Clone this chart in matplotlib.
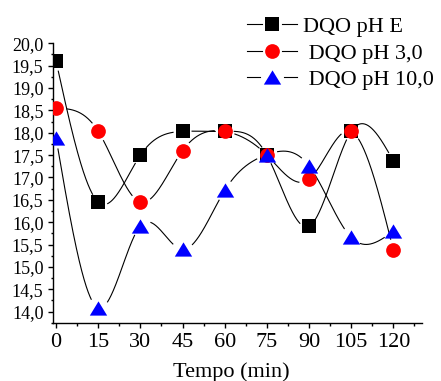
import numpy as np
import matplotlib
matplotlib.use("Agg")
import matplotlib.pyplot as plt
from matplotlib.path import Path
from matplotlib.lines import Line2D
from matplotlib.legend_handler import HandlerBase
from matplotlib.ticker import MultipleLocator, FuncFormatter

plt.rcParams['font.family'] = ['Liberation Serif', 'DejaVu Serif']

# Sampling times (min)
tempo = [0, 15, 30, 45, 60, 75, 90, 105, 120]

# DQO readings for each pH condition
dqo_ph_e = [19.60, 16.45, 17.50, 18.03, 18.03, 17.50, 15.91, 18.03, 17.37]
dqo_ph_3 = [18.55, 18.03, 16.45, 17.60, 18.03, 17.50, 16.96, 18.03, 15.38]
dqo_ph_10 = [17.88, 14.08, 15.92, 15.39, 16.71, 17.51, 17.26, 15.66, 15.80]

labels = ["DQO pH E", " DQO pH 3,0", " DQO pH 10,0"]
xticks = [0, 15, 30, 45, 60, 75, 90, 105, 120]


def natural_spline(x, y, xs):
    x = np.asarray(x, float)
    y = np.asarray(y, float)
    n = len(x)
    h = np.diff(x)
    A = np.zeros((n, n))
    b = np.zeros(n)
    A[0, 0] = A[-1, -1] = 1.0
    for i in range(1, n - 1):
        A[i, i - 1] = h[i - 1]
        A[i, i] = 2 * (h[i - 1] + h[i])
        A[i, i + 1] = h[i]
        b[i] = 6 * ((y[i + 1] - y[i]) / h[i] - (y[i] - y[i - 1]) / h[i - 1])
    M = np.linalg.solve(A, b)
    idx = np.clip(np.searchsorted(x, xs) - 1, 0, n - 2)
    x0, x1 = x[idx], x[idx + 1]
    hh = x1 - x0
    t0 = x1 - xs
    t1 = xs - x0
    return (M[idx] * t0 ** 3 / (6 * hh) + M[idx + 1] * t1 ** 3 / (6 * hh)
            + (y[idx] / hh - M[idx] * hh / 6) * t0
            + (y[idx + 1] / hh - M[idx + 1] * hh / 6) * t1)


class GapLineHandler(HandlerBase):
    """Legend key drawn as line - marker - line with a small break on each side."""

    def create_artists(self, legend, orig_handle, xdescent, ydescent,
                       width, height, fontsize, trans):
        ms = orig_handle.get_markersize()
        half = ms / 2 + 2.2
        cx = width / 2 - xdescent
        cy = height / 2 - ydescent
        left = Line2D([-xdescent, cx - half], [cy, cy], color='black', lw=0.8,
                      transform=trans)
        right = Line2D([cx + half, width - xdescent], [cy, cy], color='black',
                       lw=0.8, transform=trans)
        mark = Line2D([cx], [cy], linestyle='none',
                      marker=orig_handle.get_marker(), ms=ms,
                      color=orig_handle.get_markerfacecolor(), mew=0,
                      transform=trans)
        return [left, right, mark]


# Wide, slightly flattened triangle marker
tri = Path([(-1.0, -0.82), (1.0, -0.82), (0.0, 0.82), (-1.0, -0.82)],
           [Path.MOVETO, Path.LINETO, Path.LINETO, Path.CLOSEPOLY])

W, H = 441, 381
fig = plt.figure(figsize=(W / 100, H / 100), dpi=100)
ax = fig.add_axes([53.3 / W, 1 - 323.3 / H, (422 - 53.3) / W, (323.3 - 43.3) / H])
ax.set_xlim(-1.0, 130.2)
ax.set_ylim(13.74, 20.0)

series = [
    (dqo_ph_e, 's', 'black', 9.4, 9.5),
    (dqo_ph_3, 'o', '#ff0000', 10.6, 10.5),
    (dqo_ph_10, tri, '#0000ff', 12.5, 11.0),
]

handles = []
xs = np.linspace(tempo[0], tempo[-1], 2000)
for vals, mk, col, ms, gap in series:
    ys = natural_spline(tempo, vals, xs)
    disp = ax.transData.transform(np.column_stack([xs, ys]))
    pts = ax.transData.transform(np.column_stack([tempo, vals]))
    d = np.min(np.hypot(disp[:, None, 0] - pts[None, :, 0],
                        disp[:, None, 1] - pts[None, :, 1]), axis=1)
    ys_m = ys.copy()
    ys_m[d < gap] = np.nan
    ax.plot(xs, ys_m, color='black', lw=0.8, zorder=2)
    h, = ax.plot(tempo, vals, linestyle='none', marker=mk, ms=ms, color=col,
                 mec=col, mew=0, zorder=3)
    handles.append(h)

for s in ['top', 'right']:
    ax.spines[s].set_visible(False)
for s in ['left', 'bottom']:
    ax.spines[s].set_linewidth(1.0)

ax.set_xticks(xticks)
ax.xaxis.set_minor_locator(MultipleLocator(7.5))
ax.yaxis.set_major_locator(MultipleLocator(0.5))
ax.yaxis.set_minor_locator(MultipleLocator(0.25))
ax.yaxis.set_major_formatter(FuncFormatter(lambda v, p: f"{v:.1f}".replace('.', ',')))
ax.tick_params(which='major', direction='out', length=3.6, width=1.0)
ax.tick_params(which='minor', direction='out', length=1.8, width=1.0)
ax.tick_params(axis='x', labelsize=16, pad=3.5)
ax.tick_params(axis='y', labelsize=13, pad=3.5)

ax.set_xlabel("Tempo (min)", fontsize=16)
ax.xaxis.set_label_coords(0.482, -0.14)

fig.legend(handles, labels, loc='upper left', bbox_to_anchor=(247 / W, 1 - 16.5 / H),
           handler_map={Line2D: GapLineHandler()},
           frameon=False, fontsize=16, handlelength=2.25, handletextpad=0.27,
           labelspacing=0.27, borderpad=0, borderaxespad=0)

fig.savefig("out.png", dpi=100)
